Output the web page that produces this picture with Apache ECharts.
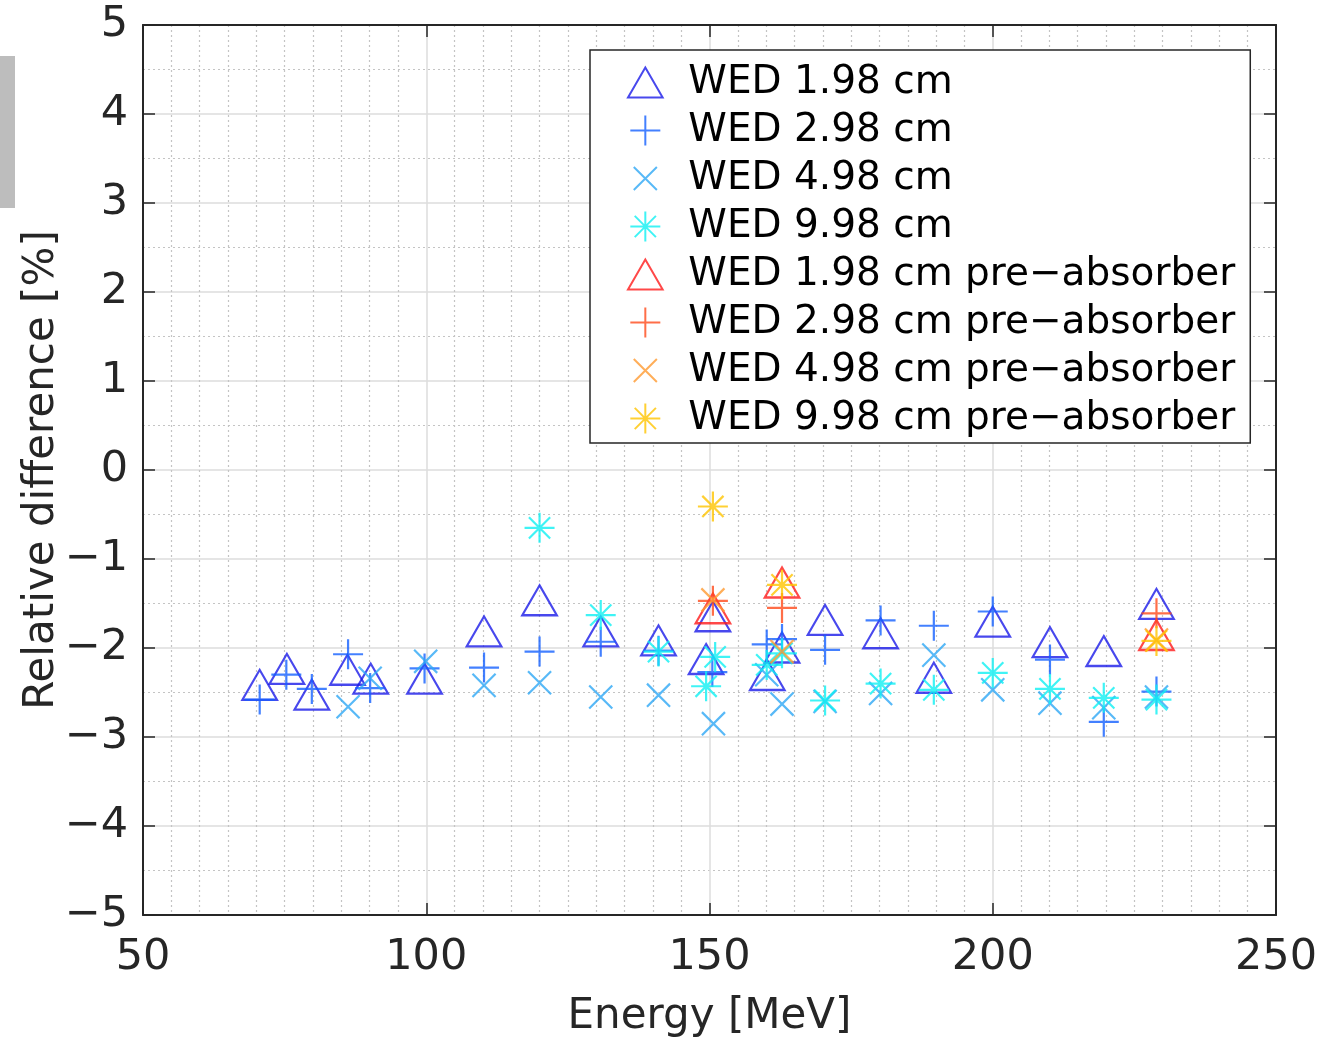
<!DOCTYPE html>
<html>
<head>
<meta charset="utf-8">
<title>Relative difference vs energy</title>
<script src="https://cdn.jsdelivr.net/npm/echarts@6/dist/echarts.min.js"></script>
<style>
  html, body { margin: 0; padding: 0; background: #ffffff; }
  #chart { width: 1321px; height: 1038px; }
</style>
</head>
<body>
<div id="chart"></div>
<script>
// Axis ticks
const xTicks = [50, 100, 150, 200, 250];
const yTicks = [-5, -4, -3, -2, -1, 0, 1, 2, 3, 4, 5];
const yTickLabels = ['\u22125', '\u22124', '\u22123', '\u22122', '\u22121', '0', '1', '2', '3', '4', '5'];

// WED 1.98 cm
const e198 = [70.6, 75.4, 79.8, 86.1, 90.2, 99.7, 110.2, 120.0, 130.8, 141.0, 149.4, 150.6, 160.2, 162.8, 170.4, 180.2, 189.6, 200.0, 210.1, 219.6, 228.9];
const v198 = [-2.47, -2.29, -2.58, -2.30, -2.40, -2.40, -1.87, -1.52, -1.87, -1.97, -2.18, -1.70, -2.36, -2.05, -1.74, -1.89, -2.39, -1.76, -1.99, -2.09, -1.56];

// WED 2.98 cm
const e298 = [70.6, 75.3, 79.8, 86.2, 90.1, 99.7, 110.2, 120.0, 130.8, 141.0, 150.5, 160.1, 162.8, 170.4, 180.2, 189.6, 200.0, 210.1, 219.6, 228.9];
const v298 = [-2.58, -2.30, -2.46, -2.07, -2.45, -2.23, -2.22, -2.04, -1.93, -2.03, -2.27, -1.96, -1.90, -2.02, -1.69, -1.75, -1.59, -2.13, -2.83, -2.49];

// WED 4.98 cm
const e498 = [86.2, 90.1, 99.9, 110.2, 120.0, 130.8, 141.0, 150.7, 160.1, 162.8, 170.4, 180.2, 189.6, 200.0, 210.1, 219.6, 228.9];
const v498 = [-2.66, -2.34, -2.15, -2.42, -2.39, -2.55, -2.53, -2.85, -2.30, -2.63, -2.60, -2.51, -2.08, -2.47, -2.62, -2.67, -2.55];

// WED 9.98 cm
const e998 = [120.0, 130.8, 141.0, 149.4, 151.0, 160.1, 162.8, 170.4, 180.2, 189.6, 200.0, 210.1, 219.6, 228.9];
const v998 = [-0.65, -1.63, -2.04, -2.43, -2.10, -2.19, -2.06, -2.59, -2.40, -2.47, -2.28, -2.46, -2.56, -2.58];

// Pre-absorber measurements
const ePre = [150.6, 162.8, 228.9];
const v198Pre = [-1.61, -1.32, -1.91];
const v298Pre = [-1.47, -1.55, -1.61];
const v498Pre = [-1.46, -2.04, -1.91];
const v998Pre = [-0.41, -1.29, -1.92];

// Hollow marker outlines (the triangle path is padded so its circumcentre is the data point)
const TRI = 'path://M10,20M10,0L18.66,15L1.34,15Z';
const TRI_ICON = 'path://M10,0L20,17.32L0,17.32Z';
const PLUS = 'path://M0,10L20,10M10,0L10,20';
const CROSS = 'path://M-3,-3M23,23M0,0L20,20M20,0L0,20';
const STAR = 'path://M10,0L10,20M0,10L20,10M2.93,2.93L17.07,17.07M17.07,2.93L2.93,17.07';

const INK = '#262626';
const FONT = 'DejaVu Sans';

const zip = (xs, ys) => xs.map((x, i) => [x, ys[i]]);

const seriesDefs = [
  { name: 'WED 1.98 cm', e: e198, v: v198, symbol: TRI, icon: TRI_ICON, size: [34.64, 40], color: '#1a1ae8' },
  { name: 'WED 2.98 cm', e: e298, v: v298, symbol: PLUS, icon: PLUS, size: 30, color: '#1460ff' },
  { name: 'WED 4.98 cm', e: e498, v: v498, symbol: CROSS, icon: CROSS, size: 30, color: '#2ea8f5' },
  { name: 'WED 9.98 cm', e: e998, v: v998, symbol: STAR, icon: STAR, size: 30, color: '#0ff0f2' },
  { name: 'WED 1.98 cm pre\u2212absorber', e: ePre, v: v198Pre, symbol: TRI, icon: TRI_ICON, size: [34.64, 40], color: '#ff1a1a' },
  { name: 'WED 2.98 cm pre\u2212absorber', e: ePre, v: v298Pre, symbol: PLUS, icon: PLUS, size: 30, color: '#ff4a1a' },
  { name: 'WED 4.98 cm pre\u2212absorber', e: ePre, v: v498Pre, symbol: CROSS, icon: CROSS, size: 30, color: '#ff9a30' },
  { name: 'WED 9.98 cm pre\u2212absorber', e: ePre, v: v998Pre, symbol: STAR, icon: STAR, size: 30, color: '#ffc400' }
];

const series = seriesDefs.map(d => ({
  name: d.name,
  type: 'scatter',
  data: zip(d.e, d.v),
  symbol: d.symbol,
  symbolSize: d.size,
  itemStyle: { color: 'rgba(0,0,0,0)', borderColor: d.color, borderWidth: 2.2 },
  emphasis: { disabled: true },
  animation: false
}));

const xAxisBase = {
  type: 'value',
  min: xTicks[0],
  max: xTicks[xTicks.length - 1],
  interval: xTicks[1] - xTicks[0],
  axisLine: { show: true, onZero: false, lineStyle: { color: INK, width: 2 } },
  axisTick: { show: true, inside: true, length: 12, lineStyle: { color: INK, width: 1.5 } }
};
const yAxisBase = {
  type: 'value',
  min: yTicks[0],
  max: yTicks[yTicks.length - 1],
  interval: yTicks[1] - yTicks[0],
  axisLine: { show: true, onZero: false, lineStyle: { color: INK, width: 2 } },
  axisTick: { show: true, inside: true, length: 12, lineStyle: { color: INK, width: 1.5 } }
};

const chart = echarts.init(document.getElementById('chart'), null, { renderer: 'canvas' });
chart.setOption({
  backgroundColor: '#ffffff',
  animation: false,
  textStyle: { fontFamily: FONT },
  grid: { left: 143, right: 45, top: 25, bottom: 123, containLabel: false, outerBoundsMode: 'none' },
  graphic: [
    { type: 'rect', left: 0, top: 56, shape: { width: 15, height: 152 }, style: { fill: '#bdbdbd' }, silent: true }
  ],
  xAxis: [
    Object.assign({}, xAxisBase, {
      position: 'bottom',
      name: 'Energy [MeV]',
      nameLocation: 'middle',
      nameGap: 81,
      nameMoveOverlap: false,
      nameTextStyle: { fontFamily: FONT, fontSize: 42, color: INK },
      axisLabel: { show: true, fontFamily: FONT, fontSize: 43, color: INK, margin: 21 },
      splitLine: { show: true, lineStyle: { color: '#dcdcdc', width: 1.5 } },
      minorTick: { show: false, splitNumber: 10 },
      minorSplitLine: { show: true, lineStyle: { color: '#c4c4c4', width: 1.2, type: [2, 3] } }
    }),
    Object.assign({}, xAxisBase, {
      position: 'top',
      axisLabel: { show: false },
      splitLine: { show: false }
    })
  ],
  yAxis: [
    Object.assign({}, yAxisBase, {
      position: 'left',
      name: 'Relative difference [%]',
      nameLocation: 'middle',
      nameGap: 80,
      nameMoveOverlap: false,
      nameTextStyle: { fontFamily: FONT, fontSize: 42, color: INK },
      axisLabel: {
        show: true, fontFamily: FONT, fontSize: 43, color: INK, margin: 15,
        formatter: v => yTickLabels[yTicks.indexOf(Math.round(v))]
      },
      splitLine: { show: true, lineStyle: { color: '#dcdcdc', width: 1.5 } },
      minorTick: { show: false, splitNumber: 2 },
      minorSplitLine: { show: true, lineStyle: { color: '#c4c4c4', width: 1.2, type: [2, 3] } }
    }),
    Object.assign({}, yAxisBase, {
      position: 'right',
      axisLabel: { show: false },
      splitLine: { show: false }
    })
  ],
  legend: {
    orient: 'vertical',
    left: 590,
    top: 50,
    padding: [13, 15, 5, 37],
    itemWidth: 36,
    itemHeight: 30,
    itemGap: 9,
    selectedMode: false,
    symbolKeepAspect: true,
    backgroundColor: '#ffffff',
    borderColor: INK,
    borderWidth: 1.5,
    borderRadius: 0,
    itemStyle: { borderWidth: 2 },
    textStyle: { fontFamily: FONT, fontSize: 39, color: '#000000', padding: [0, 0, 0, 20] },
    data: seriesDefs.map(d => ({
      name: d.name,
      icon: d.icon,
      itemStyle: { color: 'rgba(0,0,0,0)', borderColor: d.color, borderWidth: 2 }
    }))
  },
  series: series
});
</script>
</body>
</html>
